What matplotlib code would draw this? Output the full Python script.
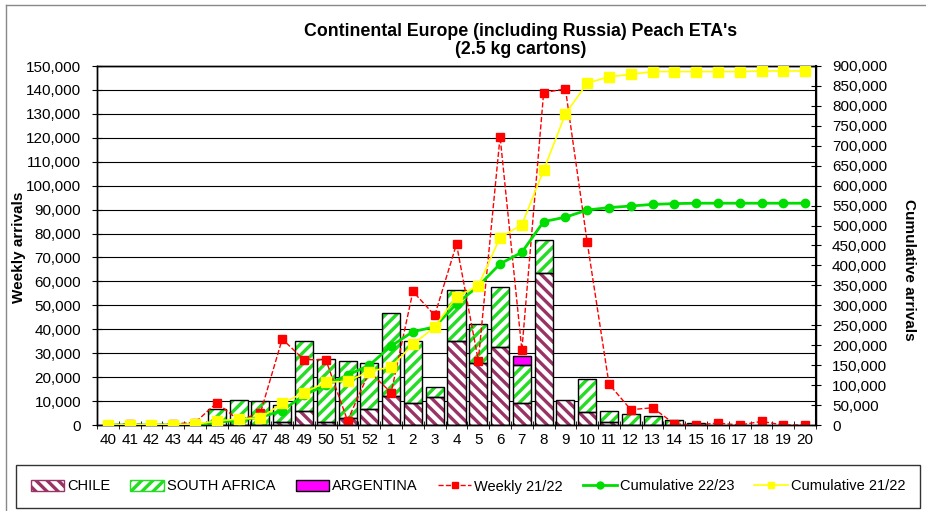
import numpy as np
import matplotlib
matplotlib.use("Agg")
import matplotlib.pyplot as plt
from matplotlib.patches import Patch
from matplotlib.lines import Line2D

plt.rcParams['font.family'] = ['Liberation Sans', 'DejaVu Sans']
plt.rcParams['hatch.linewidth'] = 2.4

weeks = ['40', '41', '42', '43', '44', '45', '46', '47', '48', '49', '50', '51', '52',
         '1', '2', '3', '4', '5', '6', '7', '8', '9', '10', '11', '12', '13', '14',
         '15', '16', '17', '18', '19', '20']

chile = [0, 0, 0, 0, 0, 0, 0, 0, 1400, 5850, 1100, 3000, 6500,
         12000, 9000, 11600, 35200, 25800, 32700, 9000, 63400, 10400, 5400, 1100, 0, 0, 0,
         0, 0, 0, 0, 0, 0]
south_africa = [0, 0, 0, 0, 0, 6500, 10400, 9900, 7100, 29350, 26300, 23900, 19300,
                34700, 26200, 4100, 21200, 16300, 24800, 15900, 14000, 0, 13800, 4700, 4700, 3900, 2100,
                1000, 0, 0, 0, 0, 0]
argentina = [0, 0, 0, 0, 0, 0, 0, 0, 0, 0, 0, 0, 0,
             0, 0, 0, 0, 0, 0, 3900, 0, 0, 0, 0, 0, 0, 0,
             0, 0, 0, 0, 0, 0]

weekly_2122 = [0, 500, 0, 500, 1000, 9300, 2000, 5000, 35900, 27300, 27300, 1800, 22300,
               13500, 55800, 45800, 75600, 26900, 120500, 31300, 138900, 140400, 76300, 17100, 6400, 7200, 500,
               0, 800, 0, 1500, 0, 0]
cum_2223 = [0, 0, 0, 0, 0, 6500, 12500, 19300, 36000, 75000, 100000, 125000, 150000,
            198000, 234000, 246000, 304000, 348000, 404000, 433000, 510000, 521000, 539000, 545000, 549000, 553000, 555000,
            556000, 556000, 556000, 556000, 556000, 556000]
cum_2122 = [0, 500, 500, 1000, 2000, 10000, 15000, 17500, 54400, 81000, 107000, 110000, 134000,
            146000, 202000, 246000, 322000, 349000, 470000, 502000, 639000, 780000, 857000, 873000, 879000, 886000, 886000,
            886000, 886000, 886000, 887500, 887500, 887500]

x = np.arange(len(weeks))
chile = np.array(chile)
south_africa = np.array(south_africa)
argentina = np.array(argentina)

fig = plt.figure(figsize=(9.26, 5.11), dpi=100)
ax = fig.add_axes([97 / 926, 1 - 425 / 511, 719 / 926, 359 / 511])
ax2 = ax.twinx()

w = 0.83
chile_col = '#993366'
sa_col = '#22DD22'

# hatched fills (hatch colour comes from edgecolor), then black outlines
ax.bar(x, chile, w, color='white', edgecolor=chile_col, hatch='\\\\\\', linewidth=0, zorder=2)
ax.bar(x, south_africa, w, bottom=chile, color='white', edgecolor=sa_col, hatch='///', linewidth=0, zorder=2)
ax.bar(x, argentina, w, bottom=chile + south_africa, color='#FF00FF', linewidth=0, zorder=2)
for vals, bot in [(chile, 0), (south_africa, chile), (argentina, chile + south_africa)]:
    v = np.array(vals)
    mask = v > 0
    ax.bar(x[mask], v[mask], w, bottom=(np.zeros_like(v) + bot)[mask], fill=False,
           edgecolor='black', linewidth=1, zorder=3)

ax.plot(x, weekly_2122, color='red', ls='--', lw=1, marker='s', ms=6, zorder=4)
ax2.plot(x, cum_2223, color='#00DD00', lw=2, marker='o', ms=6, zorder=4)
ax2.plot(x, cum_2122, color='#FFFF00', lw=1.2, marker='s', ms=7, zorder=5)

ax.set_xlim(-0.5, len(weeks) - 0.5)
ax.set_ylim(0, 150000)
ax2.set_ylim(0, 900000)
ax.set_yticks(np.arange(0, 150001, 10000))
ax2.set_yticks(np.arange(0, 900001, 50000))
ax.yaxis.set_major_formatter(matplotlib.ticker.FuncFormatter(lambda v, p: f'{int(v):,}'))
ax2.yaxis.set_major_formatter(matplotlib.ticker.FuncFormatter(lambda v, p: f'{int(v):,}'))
ax.grid(axis='y', color='black', lw=0.8)
ax.set_axisbelow(True)

ax.set_xticks(x)
ax.set_xticklabels(weeks)
ax.set_xticks(np.arange(-0.5, len(weeks)), minor=True)
ax.tick_params(axis='x', which='major', length=0, labelsize=11, pad=6)
ax.tick_params(axis='x', which='minor', length=6, direction='inout')
ax.tick_params(axis='y', labelsize=11, length=7, direction='inout', pad=8)
ax2.tick_params(axis='y', labelsize=11, length=7, direction='inout', pad=8)
for a in (ax, ax2):
    for s in a.spines.values():
        s.set_linewidth(1)
ax2.spines['right'].set_linewidth(1.5)

ax.set_ylabel('Weekly arrivals', fontsize=11, fontweight='bold', va='center')
ax.yaxis.set_label_coords((19 - 97) / 719, (425 - 247) / 359)
ax2.set_ylabel('Cumulative arrivals', fontsize=11, fontweight='bold', rotation=270, va='center')
ax2.yaxis.set_label_coords((909 - 97) / 719, (425 - 270) / 359)

fig.text(521 / 926, 1 - 31 / 511, "Continental Europe (including Russia) Peach ETA's",
         ha='center', va='center', fontsize=12.8, fontweight='bold')
fig.text(521 / 926, 1 - 49 / 511, "(2.5 kg cartons)", ha='center', va='center', fontsize=12.8, fontweight='bold')

handles = [
    Patch(facecolor='white', edgecolor=chile_col, hatch='\\\\\\'),
    Patch(facecolor='white', edgecolor=sa_col, hatch='///'),
    Patch(facecolor='#FF00FF', edgecolor='black'),
    Line2D([], [], color='red', ls='--', lw=1, marker='s', ms=5),
    Line2D([], [], color='#00DD00', lw=2, marker='o', ms=5),
    Line2D([], [], color='#FFFF00', lw=1.2, marker='s', ms=5),
]
labels = ['CHILE', 'SOUTH AFRICA', 'ARGENTINA', 'Weekly 21/22', 'Cumulative 22/23', 'Cumulative 21/22']
leg = fig.legend(handles, labels, loc='center', bbox_to_anchor=(16 / 926, 1 - 508 / 511, 904 / 926, 43 / 511),
                 mode='expand', ncol=6, fontsize=10.5, frameon=True, fancybox=False, edgecolor='black',
                 handlelength=2.3, handletextpad=0.2, columnspacing=0.8, borderpad=1.0, borderaxespad=0)
leg.get_frame().set_linewidth(1)

# outer chart border (top and left visible)
fig.add_artist(Line2D([6 / 926, 1], [1 - 5 / 511, 1 - 5 / 511], transform=fig.transFigure, color='#888888', lw=1))
fig.add_artist(Line2D([6 / 926, 6 / 926], [0, 1 - 5 / 511], transform=fig.transFigure, color='#888888', lw=1))

fig.savefig('out.png', dpi=100)
